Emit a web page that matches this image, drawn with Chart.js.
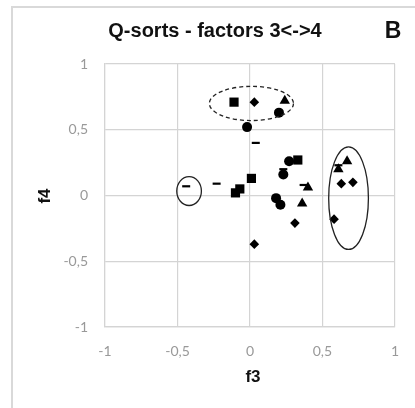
<!DOCTYPE html>
<html>
<head>
<meta charset="utf-8">
<script src="https://cdn.jsdelivr.net/npm/chart.js@4"></script>
<style>
    html, body { margin: 0; padding: 0; background: #fff; }
    #wrap { width: 415px; height: 408px; position: relative; }
</style>
</head>
<body>
<div id="wrap"><canvas id="qsortChart"></canvas></div>
<script>
// Q-sort loadings, factor 3 (x) vs factor 4 (y), grouped by marker
const squaresX   = [-0.11, 0.33, 0.01, -0.07, -0.10];
const squaresY   = [0.71, 0.27, 0.13, 0.05, 0.02];
const diamondsX  = [0.03, 0.31, 0.03, 0.63, 0.71, 0.58];
const diamondsY  = [0.71, -0.21, -0.37, 0.09, 0.10, -0.18];
const trianglesX = [0.24, 0.40, 0.36, 0.67, 0.61];
const trianglesY = [0.72, 0.06, -0.06, 0.26, 0.20];
const circlesX   = [0.20, -0.02, 0.27, 0.23, 0.18, 0.21];
const circlesY   = [0.63, 0.52, 0.26, 0.16, -0.02, -0.07];
const dashesX    = [0.04, 0.23, -0.23, -0.44, 0.37, 0.61];
const dashesY    = [0.40, 0.20, 0.09, 0.07, 0.08, 0.23];

const axisTicks = [-1, -0.5, 0, 0.5, 1];

// highlighted groups (data units): centre x, centre y, half-width, half-height
const ellipseCx = [0.01, 0.68, -0.42];
const ellipseCy = [0.70, -0.02, 0.034];
const ellipseRx = [0.29, 0.137, 0.085];
const ellipseRy = [0.13, 0.39, 0.11];
const ellipseDashed = [true, false, false];

const toPoints = (xs, ys) => xs.map((x, i) => ({ x: x, y: ys[i] }));

const fmt = v => String(v).replace(".", ",");

/**
 * Frame, titles and group ellipses
 */
const decorations = {
    id: "decorations",
    beforeDraw(chart) {
        const ctx = chart.ctx;
        ctx.save();
        ctx.strokeStyle = "#d9d9d9";
        ctx.lineWidth = 2;
        ctx.strokeRect(12, 7, 420, 420);
        ctx.restore();
    },
    afterDatasetsDraw(chart) {
        const ctx = chart.ctx;
        const xs = chart.scales.x;
        const ys = chart.scales.y;
        ctx.save();
        ctx.strokeStyle = "#222";
        ctx.lineWidth = 1.3;
        ellipseCx.forEach((cx, i) => {
            const px = xs.getPixelForValue(cx);
            const py = ys.getPixelForValue(ellipseCy[i]);
            const rx = Math.abs(xs.getPixelForValue(cx + ellipseRx[i]) - px);
            const ry = Math.abs(ys.getPixelForValue(ellipseCy[i] + ellipseRy[i]) - py);
            ctx.setLineDash(ellipseDashed[i] ? [4, 3] : []);
            ctx.beginPath();
            ctx.ellipse(px, py, rx, ry, 0, 0, Math.PI * 2);
            ctx.stroke();
        });
        ctx.setLineDash([]);

        ctx.fillStyle = "#111";
        ctx.textAlign = "center";
        ctx.textBaseline = "middle";
        ctx.font = "bold 20px 'Liberation Sans', Arial, sans-serif";
        ctx.fillText("Q-sorts - factors 3<->4", 215, 31);
        ctx.font = "bold 23px 'Liberation Sans', Arial, sans-serif";
        ctx.fillText("B", 393, 32);

        ctx.font = "bold 17px 'Liberation Sans', Arial, sans-serif";
        ctx.fillText("f3", 253, 377);
        ctx.translate(45, 196);
        ctx.rotate(-Math.PI / 2);
        ctx.fillText("f4", 0, 0);
        ctx.restore();
    },
};

const gridStyle = {
    color: "#d4d4d4",
    lineWidth: 1.2,
    drawTicks: false,
};

const tickStyle = {
    color: "#999999",
    font: { family: "Lato, 'Open Sans', sans-serif", size: 14 },
    callback: v => fmt(v),
};

function buildDataset(label, xs, ys, style, radius) {
    return {
        label: label,
        data: toPoints(xs, ys),
        pointStyle: style,
        pointRadius: radius,
        pointHoverRadius: radius,
        backgroundColor: "#000",
        borderColor: "#000",
        borderWidth: style === "line" ? 2.2 : 0,
    };
}

new Chart(document.getElementById("qsortChart").getContext("2d"), {
    type: "scatter",
    data: {
        datasets: [
            buildDataset("squares", squaresX, squaresY, "rect", 6.5),
            buildDataset("diamonds", diamondsX, diamondsY, "rectRot", 4.8),
            buildDataset("triangles", trianglesX, trianglesY, "triangle", 6),
            buildDataset("circles", circlesX, circlesY, "circle", 5),
            buildDataset("dashes", dashesX, dashesY, "line", 4),
        ],
    },
    options: {
        responsive: true,
        maintainAspectRatio: false,
        animation: false,
        layout: {
            padding: { left: 0, right: 17, top: 64, bottom: 0 },
        },
        plugins: {
            legend: { display: false },
            tooltip: { enabled: false },
        },
        scales: {
            x: {
                type: "linear",
                min: -1,
                max: 1,
                afterBuildTicks: scale => {
                    scale.ticks = axisTicks.map(v => ({ value: v }));
                },
                afterFit: scale => {
                    scale.height = 81;
                },
                grid: gridStyle,
                border: { color: "#d4d4d4", width: 1.2 },
                ticks: { ...tickStyle, padding: 16, maxRotation: 0 },
            },
            y: {
                type: "linear",
                min: -1,
                max: 1,
                afterBuildTicks: scale => {
                    scale.ticks = axisTicks.map(v => ({ value: v }));
                },
                afterFit: scale => {
                    scale.width = 105;
                },
                grid: gridStyle,
                border: { color: "#d4d4d4", width: 1.2 },
                ticks: { ...tickStyle, padding: 17 },
            },
        },
    },
    plugins: [decorations],
});
</script>
</body>
</html>
